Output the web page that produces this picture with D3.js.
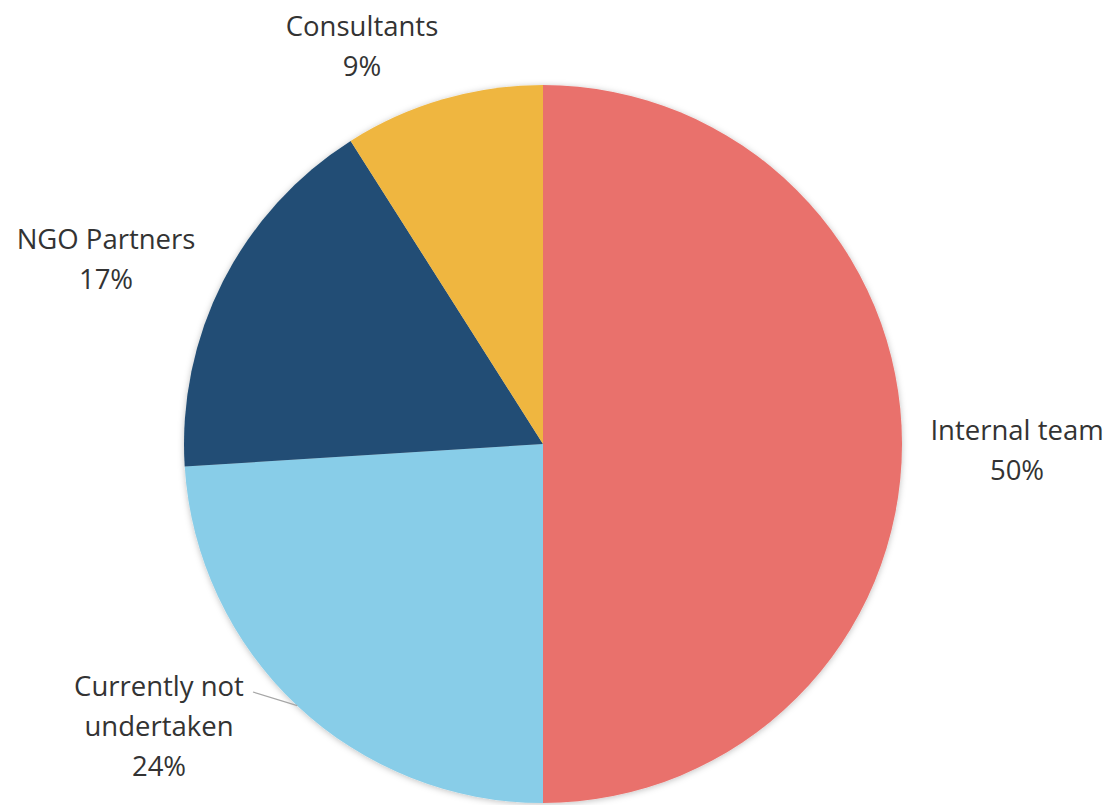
<!DOCTYPE html>
<html>
<head>
<meta charset="utf-8">
<script src="https://cdn.jsdelivr.net/npm/d3@7"></script>
<style>
  html, body { margin: 0; padding: 0; background: #ffffff; }
  svg { display: block; }
  text { font-family: "Open Sans", "Noto Sans", sans-serif; fill: #333333; }
</style>
</head>
<body>
<svg id="chart" width="1109" height="805"></svg>
<script>
// Who carries out the work: share of respondents
const categories = ["Internal team", "Currently not undertaken", "NGO Partners", "Consultants"];
const shares = [50, 24, 17, 9];
const labelLines = [["Internal team", "50%"], ["Currently not", "undertaken", "24%"], ["NGO Partners", "17%"], ["Consultants", "9%"]];
const colors = ["#e9716c", "#88cde8", "#214d74", "#efb641"];

const width = 1109, height = 805;
const cx = 543, cy = 444, radius = 359;

const svg = d3.select("#chart");

const defs = svg.append("defs");
const shadow = defs.append("filter").attr("id", "pieShadow")
  .attr("x", "-10%").attr("y", "-10%").attr("width", "120%").attr("height", "120%");
shadow.append("feDropShadow")
  .attr("dx", 0).attr("dy", 1).attr("stdDeviation", 3)
  .attr("flood-color", "#000").attr("flood-opacity", 0.25);

const data = categories.map((c, i) => ({ name: c, value: shares[i], color: colors[i], lines: labelLines[i] }));

const pie = d3.pie().value(d => d.value).sort(null);
const arc = d3.arc().innerRadius(0).outerRadius(radius);
const arcs = pie(data);

const g = svg.append("g").attr("transform", `translate(${cx},${cy})`);

g.append("g").attr("filter", "url(#pieShadow)")
  .selectAll("path")
  .data(arcs)
  .join("path")
  .attr("d", arc)
  .attr("fill", d => d.data.color);

// Label block centres, relative to the pie centre
const labelPos = {
  "Internal team": [474, 6],
  "Currently not undertaken": [-384, 282],
  "NGO Partners": [-437, -185],
  "Consultants": [-181, -398]
};

const lineH = 40;
arcs.forEach(d => {
  const [lx, ly] = labelPos[d.data.name];
  const n = d.data.lines.length;
  const t = g.append("text")
    .attr("text-anchor", "middle")
    .attr("font-size", 27.5);
  d.data.lines.forEach((s, i) => {
    t.append("tspan")
      .attr("x", lx)
      .attr("y", ly + (i - (n - 1) / 2) * lineH)
      .attr("dy", "0.35em")
      .text(s);
  });
});

// Leader line for the lower-left label, ending on the slice's outer edge
const nu = arcs[1];
const a = (nu.startAngle + nu.endAngle) / 2;
const px = Math.sin(a) * radius, py = -Math.cos(a) * radius;
g.append("path")
  .attr("d", d3.line()([[-290, 248], [px, py]]))
  .attr("stroke", "#a6a6a6")
  .attr("stroke-width", 1.3)
  .attr("fill", "none");
</script>
</body>
</html>
